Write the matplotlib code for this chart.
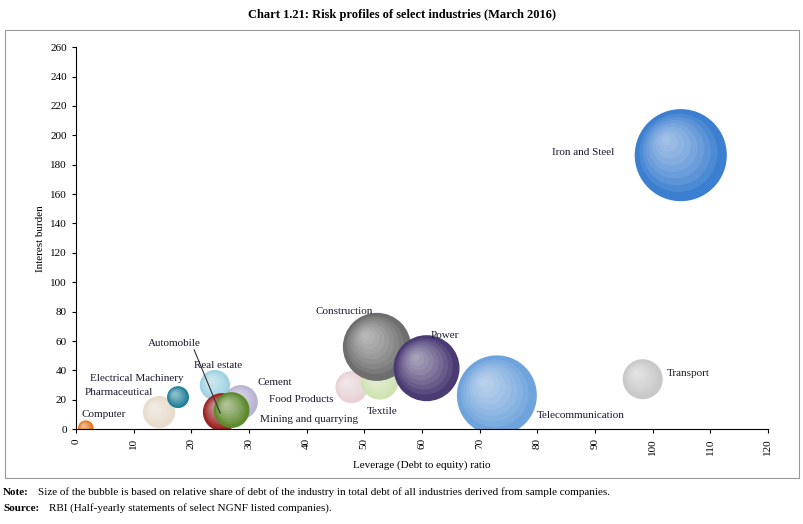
import numpy as np
import matplotlib.pyplot as plt
from matplotlib.patches import Rectangle

plt.rcParams['font.family'] = ['Liberation Serif', 'DejaVu Serif']

industries = ['Computer', 'Pharmaceutical', 'Electrical Machinery', 'Real estate', 'Cement',
              'Automobile', 'Mining and quarrying', 'Food Products', 'Textile', 'Construction',
              'Power', 'Telecommunication', 'Transport', 'Iron and Steel']
leverage = [1.7, 14.4, 17.7, 24.1, 28.6, 25.3, 27.0, 47.8, 52.7, 52.2, 60.8, 73.0, 98.3, 104.9]
interest = [0.7, 11.6, 21.8, 30.0, 18.4, 11.6, 13.0, 28.6, 33.0, 56.0, 41.5, 23.0, 34.0, 186.5]
debt_share = [0.6, 2.6, 1.2, 2.3, 2.9, 3.6, 3.2, 2.6, 3.6, 11.6, 10.9, 16.0, 4.0, 21.2]
colors = ['#e8731c', '#e8dccb', '#1f7f99', '#9fd3e3', '#b9b4d4', '#9b2323', '#5e8a2e',
          '#e8d2d6', '#cfe3b3', '#6e6e6e', '#4a3b73', '#6fa3dc', '#c8c8c8', '#3c7fd0']
order = [0, 1, 2, 3, 4, 5, 6, 7, 9, 8, 10, 11, 12, 13]

fig = plt.figure(figsize=(8.04, 5.24), dpi=100)
ax = fig.add_axes([0.0945, 0.181, 0.8605, 0.729])
fig.patches.append(Rectangle((0.006, 0.088), 0.988, 0.855, transform=fig.transFigure,
                             fill=False, edgecolor='#999999', linewidth=0.8))

px_x = 692 / 120.0   # pixels per x unit
px_y = 382 / 260.0   # pixels per y unit
for i in order:
    r_pt = 7.2 * np.sqrt(debt_share[i])
    r_px = r_pt * 100 / 72
    x, y = leverage[i], interest[i]
    ax.scatter(x, y, s=(2 * r_pt) ** 2, color=colors[i], edgecolors='none', zorder=2 + i * 0.01)
    # dark rim then glossy highlight toward upper left
    for k in np.linspace(0.85, 0.1, 8):
        off = (1 - k) * 0.35 * r_px
        ax.scatter(x - off / px_x, y + off / px_y, s=(2 * r_pt * k) ** 2,
                   color='white', alpha=0.09, edgecolors='none', zorder=2 + i * 0.01)

labels = {
    'Computer': (1, 10, 'left'), 'Pharmaceutical': (1.5, 25, 'left'),
    'Electrical Machinery': (2.5, 34.5, 'left'), 'Real estate': (20.5, 43, 'left'),
    'Cement': (31.5, 32, 'left'), 'Automobile': (12.5, 58, 'left'),
    'Mining and quarrying': (32, 6.5, 'left'), 'Food Products': (33.5, 20.5, 'left'),
    'Textile': (50.5, 12, 'left'), 'Construction': (41.5, 80, 'left'),
    'Power': (61.5, 63.5, 'left'), 'Telecommunication': (80, 9, 'left'),
    'Transport': (102.5, 38, 'left'), 'Iron and Steel': (82.5, 188, 'left'),
}
for name, (lx, ly, ha) in labels.items():
    ax.text(lx, ly, name, fontsize=8, ha=ha, va='center', color='#1a1a2e', zorder=5)
ax.plot([20.5, 25.0], [54, 11], color='#333333', linewidth=0.8, zorder=4)

ax.set_xlim(0, 120)
ax.set_ylim(0, 260)
ax.set_xticks(range(0, 121, 10))
ax.set_yticks(range(0, 261, 20))
ax.tick_params(axis='x', labelrotation=90, labelsize=8, direction='out', length=3)
ax.tick_params(axis='y', labelsize=8, direction='out', length=3)
for s in ['top', 'right']:
    ax.spines[s].set_visible(False)
ax.set_xlabel('Leverage (Debt to equity) ratio', fontsize=8)
ax.set_ylabel('Interest burden', fontsize=8)

fig.text(0.5, 0.972, 'Chart 1.21: Risk profiles of select industries (March 2016)',
         ha='center', va='center', fontsize=9, fontweight='bold')
fig.text(0.004, 0.06, 'Note:', fontsize=8, va='center', fontweight='bold')
fig.text(0.047, 0.06, 'Size of the bubble is based on relative share of debt of the industry in total debt of all industries derived from sample companies.',
         fontsize=8, va='center')
fig.text(0.004, 0.03, 'Source:', fontsize=8, va='center', fontweight='bold')
fig.text(0.061, 0.03, 'RBI (Half-yearly statements of select NGNF listed companies).',
         fontsize=8, va='center')

fig.savefig('out.png', dpi=100)
